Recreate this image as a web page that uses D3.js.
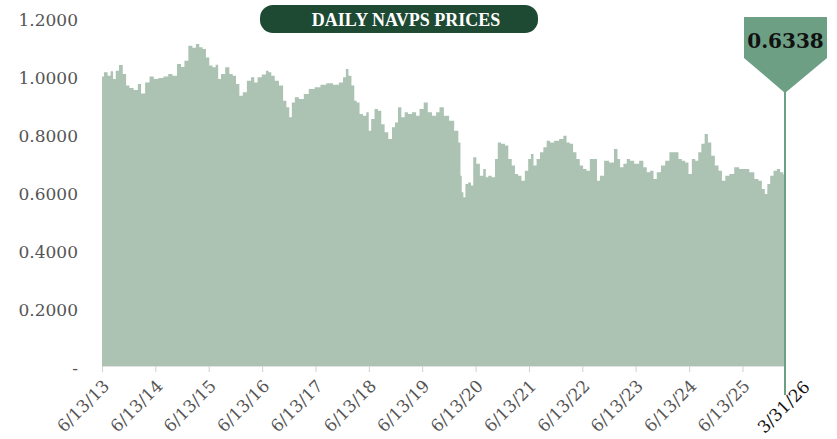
<!DOCTYPE html>
<html>
<head>
<meta charset="utf-8">
<script src="https://cdn.jsdelivr.net/npm/d3@7"></script>
<style>
  body { margin: 0; background: #fff; }
  svg { display: block; }
</style>
</head>
<body>
<svg id="chart" width="837" height="439"></svg>
<script>
const width = 837;
const height = 439;

// NAVPS
const navDates = [
  "2013-06-13","2013-07-10","2013-08-03","2013-08-19","2013-09-06","2013-09-24","2013-10-21","2013-11-14","2013-12-06","2013-12-29",
  "2014-02-02","2014-02-25","2014-03-18","2014-04-21","2014-05-18","2014-06-17","2014-07-21","2014-08-25","2014-09-24","2014-10-22",
  "2014-11-25","2014-12-17","2015-01-10","2015-02-09","2015-03-06","2015-03-29","2015-04-21","2015-05-14","2015-06-06","2015-06-28",
  "2015-07-21","2015-08-09","2015-08-25","2015-09-17","2015-10-21","2015-11-13","2015-12-06","2015-12-28","2016-01-21","2016-02-13",
  "2016-03-17","2016-04-09","2016-05-01","2016-05-24","2016-06-28","2016-07-20","2016-08-03","2016-08-26","2016-09-19","2016-10-23",
  "2016-11-15","2016-12-07","2016-12-24","2017-01-11","2017-02-03","2017-03-08","2017-04-11","2017-05-15","2017-06-30","2017-08-03",
  "2017-09-18","2017-11-03","2017-12-07","2017-12-30","2018-01-15","2018-02-03","2018-02-25","2018-03-14","2018-03-30","2018-04-22",
  "2018-05-15","2018-06-07","2018-06-18","2018-07-10","2018-08-03","2018-08-25","2018-09-18","2018-10-10","2018-11-07","2018-11-30",
  "2018-12-18","2019-01-10","2019-02-02","2019-02-25","2019-03-18","2019-04-21","2019-05-14","2019-06-07","2019-07-10","2019-08-02",
  "2019-09-05","2019-09-28","2019-10-21","2019-11-27","2020-01-01","2020-02-04","2020-02-27","2020-03-04","2020-03-15","2020-03-27",
  "2020-04-12","2020-05-04","2020-05-20","2020-06-04","2020-07-01","2020-07-23","2020-08-16","2020-08-27","2020-09-19","2020-10-12",
  "2020-11-04","2020-11-19","2020-12-19","2021-01-11","2021-02-03","2021-02-27","2021-03-19","2021-04-11","2021-05-04","2021-05-27",
  "2021-06-19","2021-07-05","2021-07-23","2021-08-16","2021-09-08","2021-10-01","2021-10-23","2021-11-15","2021-12-19","2022-01-23",
  "2022-02-14","2022-03-08","2022-03-31","2022-04-22","2022-05-15","2022-06-07","2022-06-30","2022-07-23","2022-08-15","2022-09-12",
  "2022-10-01","2022-10-23","2022-11-26","2022-12-30","2023-02-01","2023-02-16","2023-03-09","2023-04-02","2023-04-24","2023-05-17",
  "2023-06-20","2023-07-24","2023-08-16","2023-09-09","2023-10-02","2023-10-24","2023-11-16","2023-12-20","2024-01-13","2024-02-16",
  "2024-03-20","2024-04-13","2024-05-05","2024-05-28","2024-06-20","2024-07-13","2024-08-05","2024-08-24","2024-09-16","2024-10-08",
  "2024-10-31","2024-11-23","2024-12-19","2025-01-12","2025-02-04","2025-02-27","2025-04-01","2025-05-04","2025-06-08","2025-07-12",
  "2025-08-16","2025-09-19","2025-10-12","2025-11-04","2025-11-22","2025-12-08","2025-12-31","2026-01-23","2026-02-15","2026-03-08",
  "2026-03-31"
];
const navValues = [
  0.998,1.013,1.001,1.016,0.990,1.018,1.038,1.007,0.967,0.959,
  0.952,0.972,0.940,0.978,0.998,0.990,0.993,0.998,1.007,1.001,
  1.041,1.031,1.053,1.104,1.097,1.110,1.099,1.093,1.064,1.036,
  1.030,1.039,0.990,1.007,1.030,1.007,1.001,0.972,0.932,0.944,
  0.984,0.996,0.978,0.996,1.005,1.018,1.013,1.001,0.984,0.967,
  0.915,0.892,0.858,0.909,0.927,0.921,0.938,0.955,0.961,0.970,
  0.975,0.970,0.978,0.996,1.024,1.001,0.967,0.915,0.909,0.869,
  0.863,0.875,0.811,0.852,0.886,0.880,0.834,0.806,0.783,0.823,
  0.840,0.892,0.858,0.875,0.869,0.875,0.863,0.886,0.909,0.875,
  0.863,0.875,0.892,0.863,0.846,0.811,0.771,0.656,0.599,0.582,
  0.628,0.633,0.622,0.720,0.697,0.656,0.679,0.651,0.656,0.651,
  0.714,0.771,0.766,0.760,0.714,0.691,0.662,0.656,0.639,0.673,
  0.714,0.731,0.691,0.714,0.737,0.754,0.777,0.771,0.777,0.783,
  0.794,0.771,0.766,0.737,0.714,0.691,0.679,0.673,0.714,0.714,
  0.639,0.656,0.708,0.702,0.748,0.714,0.685,0.697,0.714,0.708,
  0.697,0.708,0.685,0.668,0.673,0.645,0.668,0.691,0.708,0.737,
  0.737,0.714,0.708,0.702,0.662,0.714,0.708,0.737,0.766,0.800,
  0.771,0.725,0.691,0.673,0.639,0.656,0.662,0.685,0.679,0.679,
  0.668,0.645,0.639,0.610,0.593,0.628,0.656,0.673,0.679,0.668,
  0.660
];

const yTicks = [0, 0.2, 0.4, 0.6, 0.8, 1.0, 1.2];
const xTickDates = ["2013-06-13","2014-06-13","2015-06-13","2016-06-13","2017-06-13","2018-06-13","2019-06-13",
                    "2020-06-13","2021-06-13","2022-06-13","2023-06-13","2024-06-13","2025-06-13"];
const lastDate = "2026-03-31";
const lastNav = 0.6338;
const chartTitle = "DAILY NAVPS PRICES";

const parseDate = d3.timeParse("%Y-%m-%d");
const data = navDates.map((d, i) => ({ date: parseDate(d), value: navValues[i] }));

const svg = d3.select("#chart");

const x = d3.scaleTime()
  .domain([parseDate(navDates[0]), parseDate(lastDate)])
  .range([102, 785]);

const y = d3.scaleLinear()
  .domain([0, 1.2])
  .range([366, 18]);

// area, stepped so the edge looks like daily prices
const area = d3.area()
  .curve(d3.curveStep)
  .x(d => x(d.date))
  .y0(y(0))
  .y1(d => y(d.value));

svg.append("path")
  .datum(data)
  .attr("d", area)
  .attr("fill", "#acc3b4");

// x axis
const xAxis = svg.append("g")
  .attr("transform", `translate(0, ${y(0)})`)
  .call(d3.axisBottom(x)
    .tickValues(xTickDates.map(parseDate))
    .tickSize(6)
    .tickSizeOuter(0)
    .tickFormat(d3.timeFormat("%-m/%-d/%y")));

xAxis.select(".domain").attr("stroke", "#e2e2e2");
xAxis.selectAll(".tick line").attr("stroke", "#d0d0d0");
xAxis.selectAll(".tick text")
  .attr("x", 0).attr("y", 0).attr("dy", 0)
  .attr("transform", "translate(8, 21) rotate(-45)")
  .style("text-anchor", "end")
  .style("font-family", "'DejaVu Serif', serif")
  .style("font-size", "17px")
  .style("fill", "#555");

// y axis
const yAxis = svg.append("g")
  .attr("transform", "translate(78, 2)")
  .call(d3.axisLeft(y)
    .tickValues(yTicks)
    .tickSize(0)
    .tickPadding(0)
    .tickFormat(d => d === 0 ? "-" : d3.format(".4f")(d)));

yAxis.select(".domain").remove();
yAxis.selectAll(".tick text")
  .style("font-family", "'DejaVu Serif', serif")
  .style("font-size", "17px")
  .style("fill", "#555");

// title pill
svg.append("rect")
  .attr("x", 260).attr("y", 5)
  .attr("width", 278).attr("height", 28)
  .attr("rx", 13)
  .attr("fill", "#1e4a34");

svg.append("text")
  .attr("x", 406).attr("y", 20)
  .attr("dy", "0.35em")
  .attr("text-anchor", "middle")
  .style("font-family", "'Liberation Serif', serif")
  .style("font-weight", "bold")
  .style("font-size", "18px")
  .style("fill", "#fff")
  .text(chartTitle);

// latest value marker
const mx = x(parseDate(lastDate));

svg.append("line")
  .attr("x1", mx).attr("x2", mx)
  .attr("y1", 90).attr("y2", 395)
  .attr("stroke", "#6c9f83")
  .attr("stroke-width", 2);

const flag = [[-41, 17], [42, 17], [42, 58], [0, 93], [-41, 58]];
svg.append("polygon")
  .attr("points", flag.map(p => [mx + p[0], p[1]].join(",")).join(" "))
  .attr("fill", "#6c9f83");

svg.append("text")
  .attr("x", mx + 0.5).attr("y", 41)
  .attr("dy", "0.35em")
  .attr("text-anchor", "middle")
  .style("font-family", "'DejaVu Serif', serif")
  .style("font-weight", "bold")
  .style("font-size", "20px")
  .style("fill", "#111")
  .text(d3.format(".4f")(lastNav));

svg.append("text")
  .attr("transform", `translate(${mx + 26}, ${y(0) + 22}) rotate(-45)`)
  .style("text-anchor", "end")
  .style("font-family", "'DejaVu Serif', serif")
  .style("font-size", "17px")
  .style("fill", "#111")
  .text(d3.timeFormat("%-m/%d/%y")(parseDate(lastDate)));
</script>
</body>
</html>
